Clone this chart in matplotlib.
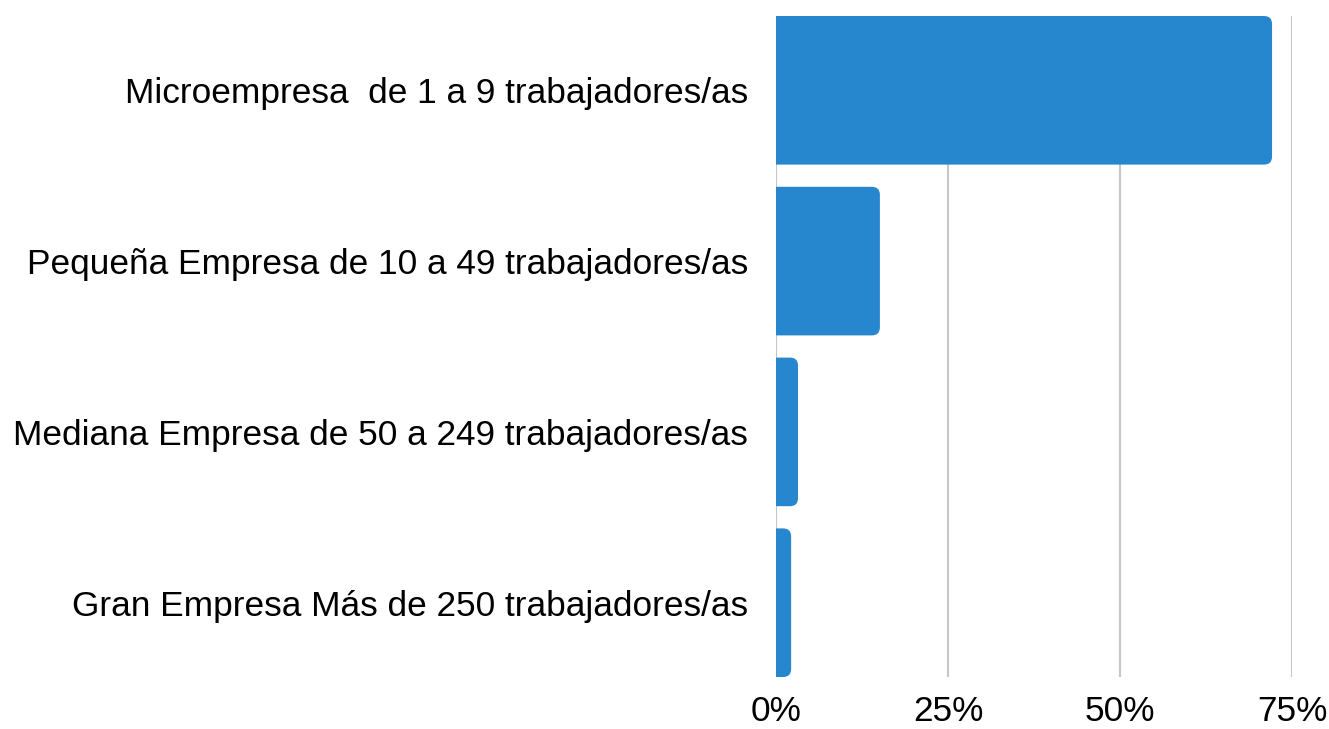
import matplotlib
matplotlib.use("Agg")
import matplotlib.pyplot as plt
from matplotlib.patches import FancyBboxPatch

categories = [
    "Microempresa  de 1 a 9 trabajadores/as",
    "Pequeña Empresa de 10 a 49 trabajadores/as",
    "Mediana Empresa de 50 a 249 trabajadores/as",
    "Gran Empresa Más de 250 trabajadores/as",
]
values = [72.1, 15.1, 3.2, 2.2]
ticks = [0, 25, 50, 75]
tick_labels = ["0%", "25%", "50%", "75%"]

plt.rcParams["font.family"] = ["Liberation Sans", "DejaVu Sans"]

W, H = 1329, 729
fig = plt.figure(figsize=(W / 100, H / 100), dpi=100)
left, right, top, bottom = 776, 1292, 16, 677
ax = fig.add_axes([left / W, 1 - bottom / H, (right - left) / W, (bottom - top) / H])

bar_h = 0.87
color = "#2686CE"
xmax = 75
ax.set_xlim(0, xmax)
ax.set_ylim(len(values) - 1 + bar_h / 2, -bar_h / 2)

# pixels per data unit, used to keep the corner round
px_x = (right - left) / xmax
px_y = (bottom - top) / (len(values) - 1 + bar_h)
r_px = 8
r = r_px / px_x
for i, v in enumerate(values):
    p = FancyBboxPatch((-2 * r, i - bar_h / 2), v + 2 * r, bar_h,
                       boxstyle=f"round,pad=0,rounding_size={r}",
                       mutation_aspect=px_x / px_y,
                       fc=color, ec="none", zorder=3)
    ax.add_patch(p)

for t in ticks:
    ax.axvline(t, color="#c6c6c6", lw=1.5, zorder=1)

ax.set_xticks(ticks)
ax.set_xticklabels(tick_labels, fontsize=25.4)
ax.set_yticks(range(len(categories)))
ax.set_yticklabels(categories, fontsize=25.4)
ax.tick_params(length=0)
ax.tick_params(axis="x", pad=13)
ax.tick_params(axis="y", pad=20)
for s in ax.spines.values():
    s.set_visible(False)

fig.savefig("out.png", dpi=100)
